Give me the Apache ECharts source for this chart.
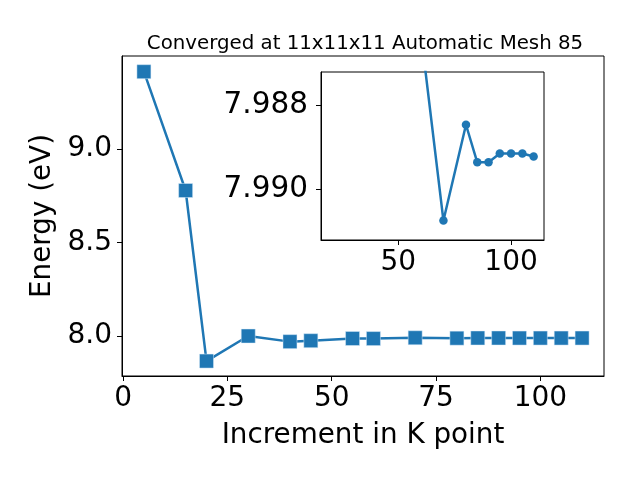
<!DOCTYPE html>
<html>
<head>
<meta charset="utf-8">
<script src="https://cdn.jsdelivr.net/npm/echarts@6/dist/echarts.min.js"></script>
<style>html,body{margin:0;padding:0;background:#fff}#c{width:640px;height:480px}</style>
</head>
<body>
<div id="c"></div>
<script>
const kPoints = [5, 15, 20, 30, 40, 45, 55, 60, 70, 80, 85, 90, 95, 100, 105, 110];
const energies = [9.415, 8.779, 7.866, 8.000, 7.970, 7.975, 7.9868, 7.9863, 7.99074, 7.98847, 7.98936, 7.98936, 7.98915, 7.98915, 7.98915, 7.98922];
const insetStartK = 60;
const mainXTicks = [0, 25, 50, 75, 100];
const mainYTicks = [8.0, 8.5, 9.0];
const insetXTicks = [50, 100];
const insetYTicks = [7.988, 7.990];
const titleText = 'Converged at 11x11x11 Automatic Mesh 85';

const mainData = kPoints.map((k, i) => [k, energies[i]]);
const insetData = mainData.filter(d => d[0] >= insetStartK);

const FONT = 'DejaVu Sans';
const BLUE = '#1f77b4';
const tickFont = {color: '#000', fontFamily: FONT, fontSize: 28};

const chart = echarts.init(document.getElementById('c'), null, {renderer: 'canvas'});
chart.setOption({
  animation: false,
  backgroundColor: '#fff',
  title: {
    text: titleText, left: 360, top: 29, textAlign: 'center',
    textStyle: {fontFamily: FONT, fontSize: 19.8, fontWeight: 'normal', color: '#000'}
  },
  grid: [
    {left: 122, top: 56, width: 482, height: 320, show: true, borderColor: '#000', borderWidth: 1, backgroundColor: '#fff', containLabel: false},
    {left: 321, top: 72, width: 223, height: 168, show: true, borderColor: '#000', borderWidth: 1, backgroundColor: '#fff', containLabel: false, z: 10}
  ],
  xAxis: [
    {
      gridIndex: 0, type: 'value', min: -0.25, max: 115.25,
      name: 'Increment in K point', nameLocation: 'middle', nameGap: 46,
      nameTextStyle: {fontFamily: FONT, fontSize: 27.8, color: '#000'},
      axisLine: {show: true, onZero: false, lineStyle: {color: '#000', width: 1}},
      axisTick: {show: true, length: 5, lineStyle: {color: '#000'}, customValues: mainXTicks},
      axisLabel: Object.assign({customValues: mainXTicks, margin: 9}, tickFont),
      splitLine: {show: false}
    },
    {
      gridIndex: 1, type: 'value', min: 15.7, max: 114.6, z: 12,
      axisLine: {show: true, onZero: false, lineStyle: {color: '#000', width: 1}},
      axisTick: {show: true, length: 5, lineStyle: {color: '#000'}, customValues: insetXTicks},
      axisLabel: Object.assign({customValues: insetXTicks, margin: 9}, tickFont),
      splitLine: {show: false}
    }
  ],
  yAxis: [
    {
      gridIndex: 0, type: 'value', min: 7.786, max: 9.499,
      name: 'Energy (eV)', nameLocation: 'middle', nameGap: 61,
      nameTextStyle: {fontFamily: FONT, fontSize: 27.8, color: '#000'},
      axisLine: {show: true, onZero: false, lineStyle: {color: '#000', width: 1}},
      axisTick: {show: true, length: 5, lineStyle: {color: '#000'}, customValues: mainYTicks},
      axisLabel: Object.assign({customValues: mainYTicks, margin: 10, formatter: v => v.toFixed(1)}, tickFont),
      splitLine: {show: false}
    },
    {
      gridIndex: 1, type: 'value', inverse: true, min: 7.98722, max: 7.9912, z: 12,
      axisLine: {show: true, onZero: false, lineStyle: {color: '#000', width: 1}},
      axisTick: {show: true, length: 5, lineStyle: {color: '#000'}, customValues: insetYTicks},
      axisLabel: Object.assign({customValues: insetYTicks, margin: 13, formatter: v => v.toFixed(3)}, tickFont, {fontSize: 29.5}),
      splitLine: {show: false}
    }
  ],
  series: [
    {
      type: 'line', xAxisIndex: 0, yAxisIndex: 0, data: mainData,
      symbol: 'rect', symbolSize: 14, showSymbol: true,
      lineStyle: {color: BLUE, width: 2.5},
      itemStyle: {color: BLUE, borderColor: 'rgba(220,235,250,0.8)', borderWidth: 0.6},
      z: 2
    },
    {
      type: 'line', xAxisIndex: 1, yAxisIndex: 1, data: insetData,
      symbol: 'circle', symbolSize: 8.5, showSymbol: true, clip: true,
      lineStyle: {color: BLUE, width: 2.5},
      itemStyle: {color: BLUE},
      z: 20
    }
  ]
});
</script>
</body>
</html>
